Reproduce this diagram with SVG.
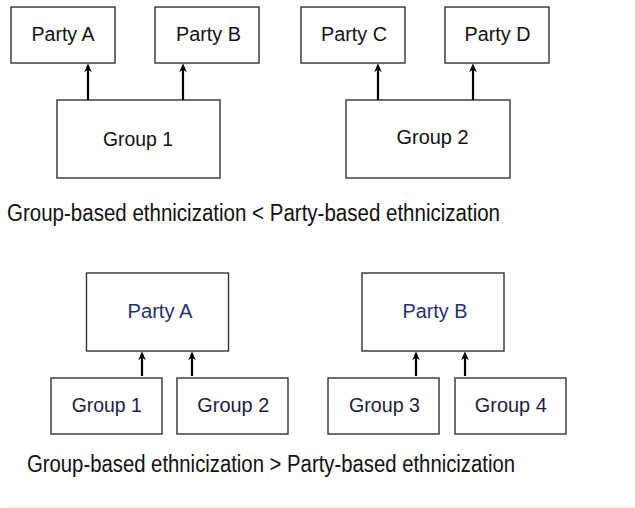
<svg xmlns="http://www.w3.org/2000/svg" width="635" height="508" viewBox="0 0 635 508">
<style>
.box{fill:#fff;stroke:#333;stroke-width:1.4}
.t{font-family:"Liberation Sans",Arial,Helvetica,sans-serif;font-size:20px;text-anchor:middle;fill:#111}
.tp{fill:#26336b}
.tg{fill:#1c1c44}
.title{font-family:"Liberation Sans",Arial,Helvetica,sans-serif;font-size:23px;fill:#111}
.arr{stroke:#000;stroke-width:2.2;fill:none;marker-end:url(#ah)}
</style>
<defs>
<marker id="ah" viewBox="0 0 10 10" refX="7.5" refY="5" markerWidth="9" markerHeight="9" markerUnits="userSpaceOnUse" orient="auto">
<path d="M0,0.8 L10,5 L0,9.2 L3,5 z" fill="#000"/>
</marker>
</defs>
<rect width="635" height="508" fill="#fff"/>

<g id="top-party-a"><rect class="box" x="11" y="7" width="104" height="56"/><text class="t" x="63" y="41" textLength="63" lengthAdjust="spacingAndGlyphs">Party A</text></g>
<g id="top-party-b"><rect class="box" x="155" y="7" width="104" height="56"/><text class="t" x="208.5" y="41" textLength="65" lengthAdjust="spacingAndGlyphs">Party B</text></g>
<g id="top-party-c"><rect class="box" x="301" y="7" width="104" height="56"/><text class="t" x="354" y="41" textLength="66" lengthAdjust="spacingAndGlyphs">Party C</text></g>
<g id="top-party-d"><rect class="box" x="445" y="7" width="104" height="56"/><text class="t" x="497.5" y="41" textLength="66" lengthAdjust="spacingAndGlyphs">Party D</text></g>
<g id="top-group-1"><rect class="box" x="57" y="100" width="163" height="78"/><text class="t" x="138" y="145.5" textLength="70" lengthAdjust="spacingAndGlyphs">Group 1</text></g>
<g id="top-group-2"><rect class="box" x="346" y="100" width="164" height="78"/><text class="t" x="432.5" y="144" textLength="72" lengthAdjust="spacingAndGlyphs">Group 2</text></g>

<text class="title" x="7" y="221" textLength="493" lengthAdjust="spacingAndGlyphs">Group-based ethnicization &lt; Party-based ethnicization</text>

<g id="bot-party-a"><rect class="box" x="86.5" y="273" width="142" height="78"/><text class="t tp" x="160" y="318" textLength="65" lengthAdjust="spacingAndGlyphs">Party A</text></g>
<g id="bot-party-b"><rect class="box" x="362" y="273" width="142" height="78"/><text class="t tp" x="435" y="318" textLength="65" lengthAdjust="spacingAndGlyphs">Party B</text></g>
<g id="bot-group-1"><rect class="box" x="51" y="378" width="111" height="56"/><text class="t tg" x="106.7" y="412.3" textLength="70" lengthAdjust="spacingAndGlyphs">Group 1</text></g>
<g id="bot-group-2"><rect class="box" x="177" y="378" width="111" height="56"/><text class="t tg" x="233.3" y="412.3" textLength="72" lengthAdjust="spacingAndGlyphs">Group 2</text></g>
<g id="bot-group-3"><rect class="box" x="328" y="378" width="111" height="56"/><text class="t tg" x="384.5" y="412.3" textLength="71" lengthAdjust="spacingAndGlyphs">Group 3</text></g>
<g id="bot-group-4"><rect class="box" x="455" y="378" width="111" height="56"/><text class="t tg" x="510.8" y="412.3" textLength="72" lengthAdjust="spacingAndGlyphs">Group 4</text></g>

<text class="title" x="27" y="472.3" textLength="488" lengthAdjust="spacingAndGlyphs">Group-based ethnicization &gt; Party-based ethnicization</text>

<g id="connectors">
<line class="arr" x1="88" y1="100" x2="88" y2="65.5"/>
<line class="arr" x1="183" y1="100" x2="183" y2="65.5"/>
<line class="arr" x1="378" y1="100" x2="378" y2="65.5"/>
<line class="arr" x1="473" y1="100" x2="473" y2="65.5"/>
<line class="arr" x1="142" y1="376" x2="142" y2="353.5"/>
<line class="arr" x1="192" y1="376" x2="192" y2="353.5"/>
<line class="arr" x1="416" y1="376" x2="416" y2="353.5"/>
<line class="arr" x1="465" y1="376" x2="465" y2="353.5"/>
</g>

<line x1="6" y1="507" x2="635" y2="507" stroke="#ececec" stroke-width="1"/>
</svg>
